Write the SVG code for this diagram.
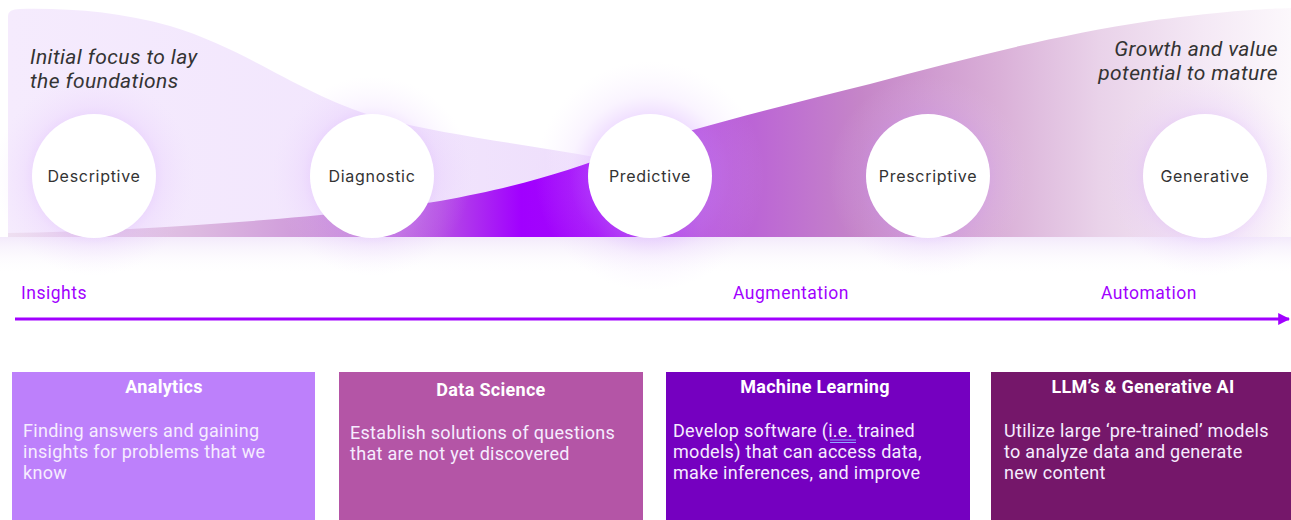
<svg xmlns="http://www.w3.org/2000/svg" width="1291" height="520" viewBox="0 0 1291 520">
  <defs>
    <style>
      .lbl { font-family: Inter, "Noto Sans", sans-serif; font-size: 16px; fill: #333333; text-anchor: middle; letter-spacing: 0.7px; }
      .note { font-family: Roboto, "Liberation Sans", sans-serif; font-style: italic; font-size: 21px; fill: #333333; letter-spacing: 0.4px; }
      .stage { font-family: Roboto, "Liberation Sans", sans-serif; font-size: 17.5px; fill: #a100ff; letter-spacing: 0.5px; }
      .ttl { font-family: Roboto, "Liberation Sans", sans-serif; font-weight: bold; font-size: 18px; fill: #ffffff; text-anchor: middle; letter-spacing: 0.3px; }
      .body { font-family: Roboto, "Liberation Sans", sans-serif; font-size: 18px; fill: #f6ecff; letter-spacing: 0.3px; }
      .node circle.disc { fill: #ffffff; }
    </style>
    <linearGradient id="lightBand" x1="8" y1="0" x2="640" y2="0" gradientUnits="userSpaceOnUse">
      <stop offset="0" stop-color="#f5ebfd"/>
      <stop offset="0.55" stop-color="#f2e6fd"/>
      <stop offset="0.85" stop-color="#efe0fc"/>
      <stop offset="1" stop-color="#efe0fc" stop-opacity="0"/>
    </linearGradient>
    <linearGradient id="growBand" x1="8" y1="0" x2="1291" y2="0" gradientUnits="userSpaceOnUse">
      <stop offset="0" stop-color="#eedff1"/>
      <stop offset="0.15" stop-color="#dcb8e0"/>
      <stop offset="0.27" stop-color="#c98cd8"/>
      <stop offset="0.337" stop-color="#b54ee4"/>
      <stop offset="0.40" stop-color="#a100ff"/>
      <stop offset="0.46" stop-color="#a30af8"/>
      <stop offset="0.54" stop-color="#b755dc"/>
      <stop offset="0.664" stop-color="#c585c8"/>
      <stop offset="0.773" stop-color="#dab0d8"/>
      <stop offset="0.85" stop-color="#e9d2e9"/>
      <stop offset="0.93" stop-color="#f4e8f5"/>
      <stop offset="1" stop-color="#fcf8fc"/>
    </linearGradient>
    <linearGradient id="underGlow" x1="0" y1="237" x2="0" y2="275" gradientUnits="userSpaceOnUse">
      <stop offset="0" stop-color="#f3eafb"/>
      <stop offset="1" stop-color="#ffffff" stop-opacity="0"/>
    </linearGradient>
    <radialGradient id="halo">
      <stop offset="0.5" stop-color="#c98cff" stop-opacity="0.32"/>
      <stop offset="0.7" stop-color="#d8aaff" stop-opacity="0.13"/>
      <stop offset="1" stop-color="#e8ccff" stop-opacity="0"/>
    </radialGradient>
    <marker id="arrowHead" viewBox="0 0 10 10" refX="9" refY="5" markerWidth="4" markerHeight="4" orient="auto" markerUnits="strokeWidth">
      <path d="M0,0 L10,5 L0,10 Z" fill="#a100ff"/>
    </marker>
  </defs>

  <rect width="1291" height="520" fill="#ffffff"/>

  <!-- background bands -->
  <g id="bands">
    <path d="M8,237 L8,16 Q8,9 20,9 C70,8 120,12 170,26 C250,50 300,95 380,118 C450,136 530,145 600,158 L640,170 L640,237 Z" fill="url(#lightBand)"/>
    <path d="M8,237 L8,233 C150,231 330,217 440,201 C520,187 570,170 620,152 C700,126 790,104 870,84 C960,60 1050,36 1150,21 C1215,12 1260,9 1291,8 L1291,237 Z" fill="url(#growBand)"/>
    <rect x="0" y="237" width="1291" height="40" fill="url(#underGlow)"/>
  </g>

  <text class="note" x="30" y="64">Initial focus to lay</text>
  <text class="note" x="30" y="88">the foundations</text>
  <text class="note" x="1278" y="56" text-anchor="end">Growth and value</text>
  <text class="note" x="1278" y="80" text-anchor="end">potential to mature</text>

  <!-- analytics stages -->
  <g id="node-descriptive" class="node">
    <circle cx="94" cy="176" r="100" fill="url(#halo)"/>
    <circle class="disc" cx="94" cy="176" r="62"/>
    <text class="lbl" x="94" y="182">Descriptive</text>
  </g>
  <g id="node-diagnostic" class="node">
    <circle cx="372" cy="176" r="100" fill="url(#halo)"/>
    <circle class="disc" cx="372" cy="176" r="62"/>
    <text class="lbl" x="372" y="182">Diagnostic</text>
  </g>
  <g id="node-predictive" class="node">
    <circle cx="650" cy="176" r="115" fill="url(#halo)"/>
    <circle class="disc" cx="650" cy="176" r="62"/>
    <text class="lbl" x="650" y="182">Predictive</text>
  </g>
  <g id="node-prescriptive" class="node">
    <circle cx="928" cy="176" r="100" fill="url(#halo)"/>
    <circle class="disc" cx="928" cy="176" r="62"/>
    <text class="lbl" x="928" y="182">Prescriptive</text>
  </g>
  <g id="node-generative" class="node">
    <circle cx="1205" cy="176" r="100" fill="url(#halo)"/>
    <circle class="disc" cx="1205" cy="176" r="62"/>
    <text class="lbl" x="1205" y="182">Generative</text>
  </g>

  <!-- progression axis -->
  <g id="connectors">
    <line x1="15" y1="319" x2="1289" y2="319" stroke="#a100ff" stroke-width="3" marker-end="url(#arrowHead)"/>
  </g>
  <text class="stage" x="21" y="299">Insights</text>
  <text class="stage" x="733" y="299">Augmentation</text>
  <text class="stage" x="1101" y="299">Automation</text>

  <!-- capability cards -->
  <g id="card-analytics">
    <rect x="12" y="372" width="303" height="148" fill="#bd80fb"/>
    <text class="ttl" x="164" y="393">Analytics</text>
    <text class="body" x="23" y="437">Finding answers and gaining</text>
    <text class="body" x="23" y="458">insights for problems that we</text>
    <text class="body" x="23" y="479">know</text>
  </g>
  <g id="card-data-science">
    <rect x="339" y="372" width="304" height="148" fill="#b455a6"/>
    <text class="ttl" x="491" y="396">Data Science</text>
    <text class="body" x="350" y="439">Establish solutions of questions</text>
    <text class="body" x="350" y="460">that are not yet discovered</text>
  </g>
  <g id="card-machine-learning">
    <rect x="666" y="372" width="304" height="148" fill="#7500c0"/>
    <text class="ttl" x="815" y="393">Machine Learning</text>
    <text class="body" x="673" y="437">Develop software (i.e. trained</text>
    <text class="body" x="673" y="458">models) that can access data,</text>
    <text class="body" x="673" y="479">make inferences, and improve</text>
    <path d="M830,440 H856 M830,442.5 H856" stroke="#8fa8ff" stroke-width="1"/>
  </g>
  <g id="card-llm">
    <rect x="991" y="372" width="300" height="148" fill="#75176a"/>
    <text class="ttl" x="1143" y="393">LLM’s &amp; Generative AI</text>
    <text class="body" x="1004" y="437">Utilize large ‘pre-trained’ models</text>
    <text class="body" x="1004" y="458">to analyze data and generate</text>
    <text class="body" x="1004" y="479">new content</text>
  </g>
</svg>
